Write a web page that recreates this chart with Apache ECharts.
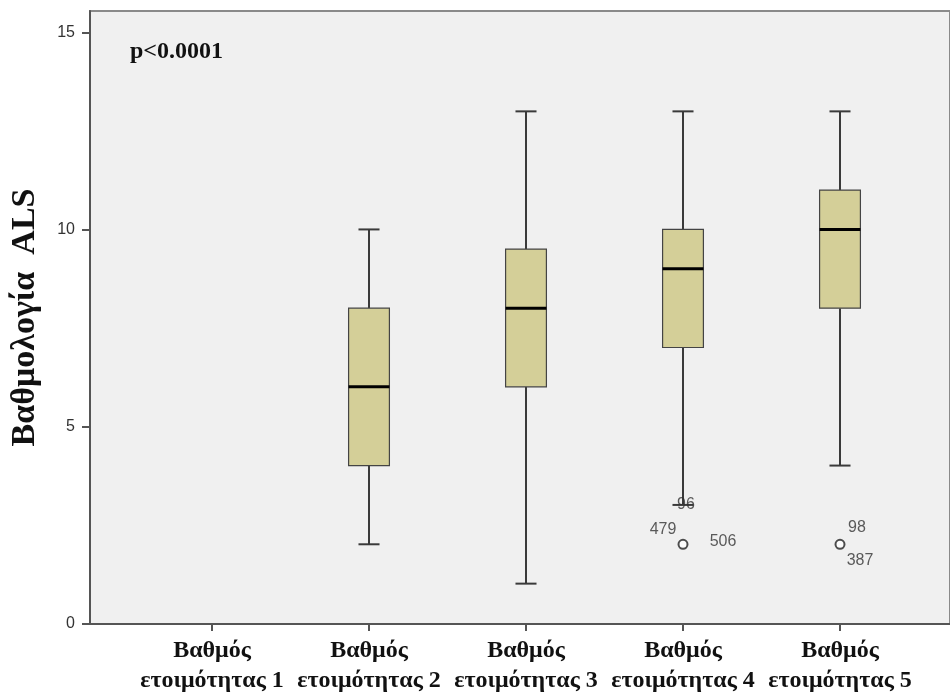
<!DOCTYPE html>
<html>
<head>
<meta charset="utf-8">
<script src="https://cdn.jsdelivr.net/npm/echarts@6/dist/echarts.min.js"></script>
<style>
  html, body { margin: 0; padding: 0; background: #fff; }
  #chart { width: 950px; height: 696px; }
</style>
</head>
<body>
<div id="chart"></div>
<script>
// categories on the x axis
const categories = [
  'Βαθμός\nετοιμότητας 1',
  'Βαθμός\nετοιμότητας 2',
  'Βαθμός\nετοιμότητας 3',
  'Βαθμός\nετοιμότητας 4',
  'Βαθμός\nετοιμότητας 5'
];
// [min, Q1, median, Q3, max] per category; the first one has no data
const boxStats = [
  null,
  [2, 4, 6, 8, 10],
  [1, 6, 8, 9.5, 13],
  [3, 7, 9, 10, 13],
  [4, 8, 10, 11, 13]
];
// outliers: [category index, value]
const outliers = [[3, 2], [4, 2]];
// case numbers written next to the outliers
const outlierLabels = [
  { cat: 3, value: 3, text: '96', offset: [3, 0] },
  { cat: 3, value: 2, text: '479', offset: [-20, -15] },
  { cat: 3, value: 2, text: '506', offset: [40, -3] },
  { cat: 4, value: 2, text: '98', offset: [17, -17] },
  { cat: 4, value: 2, text: '387', offset: [20, 16] }
];
const yTicks = [0, 5, 10, 15];
const Y_MIN = 0, Y_MAX = 15.55;

const boxData = [];
boxStats.forEach((s, i) => { if (s) boxData.push([i].concat(s)); });

// draws one box: whiskers with short caps, box and a thick median line
function renderBox(params, api) {
  const x = api.value(0);
  const pMin = api.coord([x, api.value(1)]);
  const pQ1 = api.coord([x, api.value(2)]);
  const pMed = api.coord([x, api.value(3)]);
  const pQ3 = api.coord([x, api.value(4)]);
  const pMax = api.coord([x, api.value(5)]);
  const band = api.size([1, 0])[0];
  const half = band * 0.13;
  const cap = band * 0.067;
  const cx = pMin[0];
  const whisker = { stroke: '#3a3a3a', lineWidth: 2 };
  return {
    type: 'group',
    children: [
      { type: 'line', shape: { x1: cx, y1: pMax[1], x2: cx, y2: pQ3[1] }, style: whisker },
      { type: 'line', shape: { x1: cx, y1: pQ1[1], x2: cx, y2: pMin[1] }, style: whisker },
      { type: 'line', shape: { x1: cx - cap, y1: pMax[1], x2: cx + cap, y2: pMax[1] }, style: whisker },
      { type: 'line', shape: { x1: cx - cap, y1: pMin[1], x2: cx + cap, y2: pMin[1] }, style: whisker },
      {
        type: 'rect',
        shape: { x: cx - half, y: pQ3[1], width: half * 2, height: pQ1[1] - pQ3[1] },
        style: { fill: '#d4cf98', stroke: '#444', lineWidth: 1.2 }
      },
      { type: 'line', shape: { x1: cx - half, y1: pMed[1], x2: cx + half, y2: pMed[1] }, style: { stroke: '#000', lineWidth: 3 } }
    ]
  };
}

const chart = echarts.init(document.getElementById('chart'));

const option = {
  backgroundColor: '#fff',
  animation: false,
  graphic: [{
    type: 'text',
    left: 130,
    top: 40,
    style: {
      text: 'p<0.0001',
      font: 'bold 24px "Liberation Serif"',
      fill: '#111'
    }
  }],
  grid: [
    // frame + y axis
    { left: 90, top: 11, right: -10, bottom: 72, show: true, backgroundColor: '#f0f0f0', borderColor: '#8a8a8a', borderWidth: 2 },
    // boxes
    { left: 133.5, top: 11, right: 31.5, bottom: 72 }
  ],
  xAxis: [
    {
      gridIndex: 0, type: 'value', min: 0, max: 1,
      axisLine: { show: true, lineStyle: { color: '#555', width: 2 } },
      axisTick: { show: false }, axisLabel: { show: false }, splitLine: { show: false }
    },
    {
      gridIndex: 1, type: 'category', data: categories,
      axisLine: { show: false },
      axisTick: { show: true, alignWithLabel: true, length: 8, lineStyle: { color: '#555', width: 2 } },
      axisLabel: {
        interval: 0, margin: 13,
        fontFamily: 'Liberation Serif', fontWeight: 'bold', fontSize: 24,
        lineHeight: 30, color: '#111'
      },
      splitLine: { show: false }
    }
  ],
  yAxis: [
    {
      gridIndex: 0, type: 'value', min: Y_MIN, max: Y_MAX,
      name: 'Βαθμολογία  ALS',
      nameLocation: 'middle', nameGap: 48,
      nameTextStyle: { fontFamily: 'Liberation Serif', fontWeight: 'bold', fontSize: 34, color: '#111' },
      axisLine: { show: true, lineStyle: { color: '#555', width: 2 } },
      axisTick: { show: true, length: 8, customValues: yTicks, lineStyle: { color: '#555', width: 2 } },
      axisLabel: { customValues: yTicks, margin: 15, fontFamily: 'Liberation Sans', fontSize: 16, color: '#333' },
      splitLine: { show: false }
    },
    {
      gridIndex: 1, type: 'value', min: Y_MIN, max: Y_MAX, show: false, splitLine: { show: false }
    }
  ],
  series: [
    {
      type: 'custom',
      xAxisIndex: 1, yAxisIndex: 1,
      renderItem: renderBox,
      encode: { x: 0, y: [1, 2, 3, 4, 5] },
      data: boxData,
      z: 3
    },
    {
      type: 'scatter',
      xAxisIndex: 1, yAxisIndex: 1,
      symbol: 'emptyCircle', symbolSize: 9,
      itemStyle: { color: '#222', borderColor: '#222', borderWidth: 2 },
      data: outliers,
      z: 4
    },
    {
      type: 'scatter',
      xAxisIndex: 1, yAxisIndex: 1,
      symbolSize: 1,
      itemStyle: { color: 'rgba(0,0,0,0)' },
      label: {
        show: true, position: 'inside',
        formatter: p => p.name,
        fontFamily: 'Liberation Sans', fontSize: 16, color: '#333'
      },
      data: outlierLabels.map(o => ({ name: o.text, value: [o.cat, o.value], label: { offset: o.offset } })),
      z: 5
    }
  ]
};

chart.setOption(option);
</script>
</body>
</html>
